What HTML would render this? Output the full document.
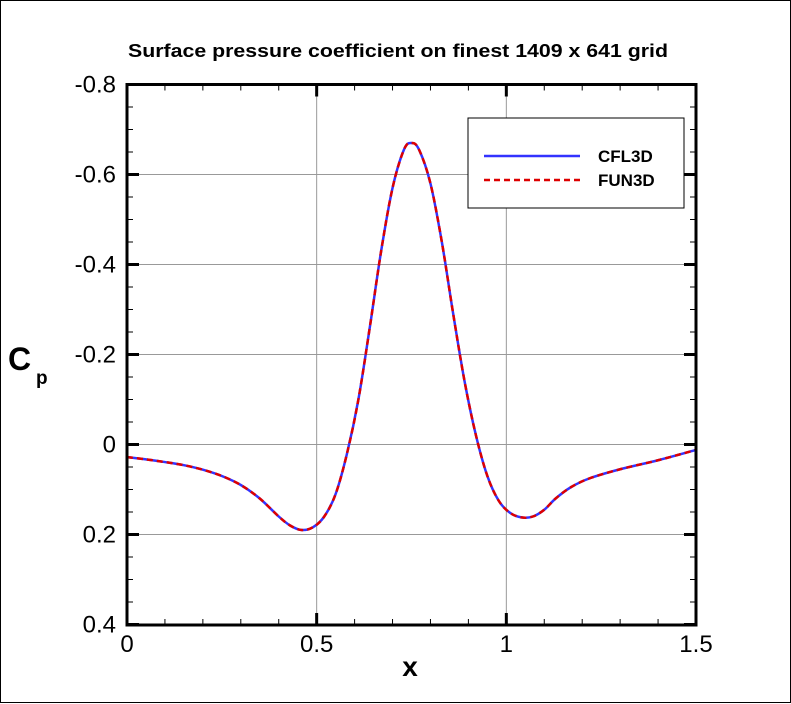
<!DOCTYPE html><html><head><style>body{margin:0;background:#fff}svg{display:block}text{font-family:"Liberation Sans",Arial,sans-serif}</style></head><body>
<svg id="s" width="791" height="704" xmlns="http://www.w3.org/2000/svg">
<rect x="0.5" y="0.5" width="790" height="702" fill="#fff" stroke="#000" stroke-width="1"/>
<text x="398" y="57" font-size="18" font-weight="bold" text-anchor="middle" textLength="540" lengthAdjust="spacingAndGlyphs">Surface pressure coefficient on finest 1409 x 641 grid</text>
<g id="grid" stroke="#999" stroke-width="1"></g>
<g id="ticks" stroke="#000"></g>
<path id="c1" fill="none" stroke="#3333ff" stroke-width="2.5"/>
<path id="c2" fill="none" stroke="#dd0000" stroke-width="2.5" stroke-dasharray="6,4"/>
<rect x="127" y="84.5" width="569" height="540.5" fill="none" stroke="#000" stroke-width="3"/>
<g id="lab" font-size="24"></g>
<text x="410" y="676" font-size="28" font-weight="bold" text-anchor="middle">x</text>
<text x="8" y="370" font-size="32" font-weight="bold">C</text><text x="36" y="384" font-size="19" font-weight="bold">p</text>
<rect x="468" y="118" width="216" height="90" fill="#fff" stroke="#000" stroke-width="1"/>
<line x1="484" y1="156" x2="580" y2="156" stroke="#3333ff" stroke-width="2.5"/>
<line x1="484" y1="180" x2="580" y2="180" stroke="#dd0000" stroke-width="2.5" stroke-dasharray="6,4"/>
<text x="598" y="162" font-size="17" font-weight="bold">CFL3D</text>
<text x="598" y="186" font-size="17" font-weight="bold">FUN3D</text>
</svg>
<script>
var NS="http://www.w3.org/2000/svg";
function px(x){return 127+379.33*x}function py(c){return 444.5+450*c}
function el(p,t,a,tx){var e=document.createElementNS(NS,t);for(var k in a)e.setAttribute(k,a[k]);if(tx)e.textContent=tx;document.getElementById(p).appendChild(e);}
[-0.8,-0.6,-0.4,-0.2,0,0.2].forEach(function(c){el("grid","line",{x1:127,x2:696,y1:py(c),y2:py(c)})});
[0.5,1].forEach(function(x){el("grid","line",{x1:px(x),x2:px(x),y1:84.5,y2:625})});
for(var i=0;i<=24;i++){var c=-0.8+i*0.05,maj=i%4==0,L=maj?12:6,w=maj?3:1;
el("ticks","line",{x1:127,x2:127+L,y1:py(c),y2:py(c),"stroke-width":w});el("ticks","line",{x1:696,x2:696-L,y1:py(c),y2:py(c),"stroke-width":w});
if(maj){var s=Math.abs(c)<1e-9?"0":c.toFixed(1);el("lab","text",{x:116,y:py(c)+8,"text-anchor":"end"},s);}}
for(var i=0;i<=15;i++){var x=i*0.1,maj=i%5==0,L=maj?12:6,w=maj?3:1;
el("ticks","line",{x1:px(x),x2:px(x),y1:625,y2:625-L,"stroke-width":w});el("ticks","line",{x1:px(x),x2:px(x),y1:84.5,y2:84.5+L,"stroke-width":w});
if(maj){el("lab","text",{x:px(x),y:652,"text-anchor":"middle"},x==0?"0":x==1?"1":x.toFixed(1));}}
var d=[[0,0.028],[0.05,0.033],[0.1,0.039],[0.15,0.046],[0.2,0.056],[0.25,0.07],[0.3,0.09],[0.35,0.12],[0.4,0.16],[0.43,0.18],[0.46,0.19],[0.49,0.184],[0.52,0.16],[0.55,0.11],[0.58,0.02],[0.61,-0.1],[0.64,-0.26],[0.67,-0.43],[0.7,-0.57],[0.73,-0.655],[0.75,-0.67],[0.77,-0.655],[0.8,-0.58],[0.83,-0.45],[0.86,-0.29],[0.89,-0.14],[0.92,-0.02],[0.95,0.07],[0.98,0.125],[1.01,0.152],[1.04,0.162],[1.07,0.16],[1.1,0.145],[1.13,0.12],[1.17,0.095],[1.22,0.075],[1.3,0.055],[1.4,0.035],[1.5,0.012]];
var P=d.map(function(p){return[px(p[0]),py(p[1])]});var s="M"+P[0][0]+","+P[0][1];
for(var i=0;i<P.length-1;i++){var p0=P[Math.max(0,i-1)],p1=P[i],p2=P[i+1],p3=P[Math.min(P.length-1,i+2)];
s+="C"+(p1[0]+(p2[0]-p0[0])/6)+","+(p1[1]+(p2[1]-p0[1])/6)+" "+(p2[0]-(p3[0]-p1[0])/6)+","+(p2[1]-(p3[1]-p1[1])/6)+" "+p2[0]+","+p2[1];}
document.getElementById("c1").setAttribute("d",s);document.getElementById("c2").setAttribute("d",s);
</script></body></html>
